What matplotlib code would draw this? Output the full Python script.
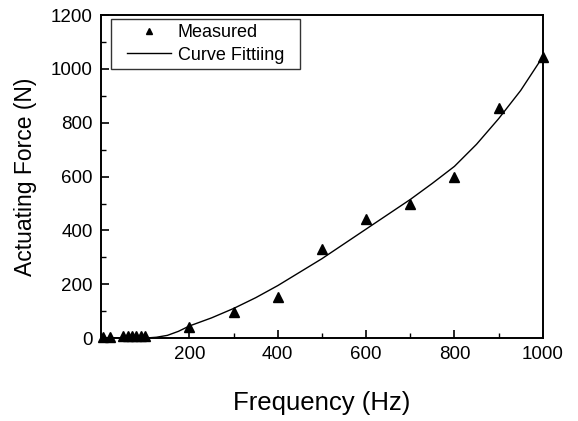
import numpy as np
import matplotlib.pyplot as plt
from matplotlib.path import Path
from matplotlib.ticker import MultipleLocator

plt.rcParams['font.family'] = ['Liberation Sans', 'DejaVu Sans']

# measured points
freq_meas = [5, 20, 50, 60, 70, 80, 90, 100, 200, 300, 400, 500, 600, 700, 800, 900, 1000]
force_meas = [5, 4, 6, 6, 6, 6, 6, 6, 42, 97, 153, 330, 442, 500, 597, 855, 1045]

# fitted curve
freq_fit = [0, 50, 100, 125, 150, 175, 200, 250, 300, 350, 400, 450, 500, 550, 600,
            650, 700, 750, 800, 850, 900, 950, 1000]
force_fit = [0, 0, 0, 3, 10, 25, 45, 75, 110, 150, 195, 245, 295, 350, 405,
             460, 515, 575, 638, 720, 815, 920, 1045]


def wide_box(x0, y0, width, height, mutation_size):
    # square frame with extra room left and right
    dx = 0.58 * mutation_size
    x0, x1 = x0 - dx, x0 + width + dx
    y1 = y0 + height
    return Path([(x0, y0), (x1, y0), (x1, y1), (x0, y1), (x0, y0)], closed=True)


fig, ax = plt.subplots(figsize=(5.78, 4.21), dpi=100)
fig.subplots_adjust(left=0.175, right=0.939, bottom=0.197, top=0.964)

ax.plot(freq_meas, force_meas, linestyle='none', marker='^', color='black',
        markersize=7, label='Measured', clip_on=False, zorder=3)
ax.plot(freq_fit, force_fit, color='black', linewidth=1.0, label='Curve Fittiing')

ax.set_xlim(0, 1000)
ax.set_ylim(0, 1200)
ax.set_xticks([200, 400, 600, 800, 1000])
ax.xaxis.set_minor_locator(MultipleLocator(100))
ax.yaxis.set_major_locator(MultipleLocator(200))
ax.yaxis.set_minor_locator(MultipleLocator(100))
ax.tick_params(which='major', direction='in', length=6, width=1.2, labelsize=13.5,
               top=False, right=False, pad=6)
ax.tick_params(which='minor', direction='in', length=3.5, width=1.0, top=False, right=False)
for sp in ax.spines.values():
    sp.set_linewidth(1.4)

ax.set_xlabel('Frequency (Hz)', fontsize=18.5, labelpad=20)
ax.set_ylabel('Actuating Force (N)', fontsize=16.5, labelpad=10)

leg = ax.legend(loc='upper left', bbox_to_anchor=(0.047, 0.988), fontsize=13,
                frameon=True, fancybox=False, edgecolor='black', handlelength=2.4,
                markerscale=0.65, borderpad=0.3, labelspacing=0.28, handletextpad=0.4,
                borderaxespad=0)
leg.get_frame().set_linewidth(1.0)
leg.get_frame().set_boxstyle(wide_box)

fig.savefig('out.png', dpi=100)
